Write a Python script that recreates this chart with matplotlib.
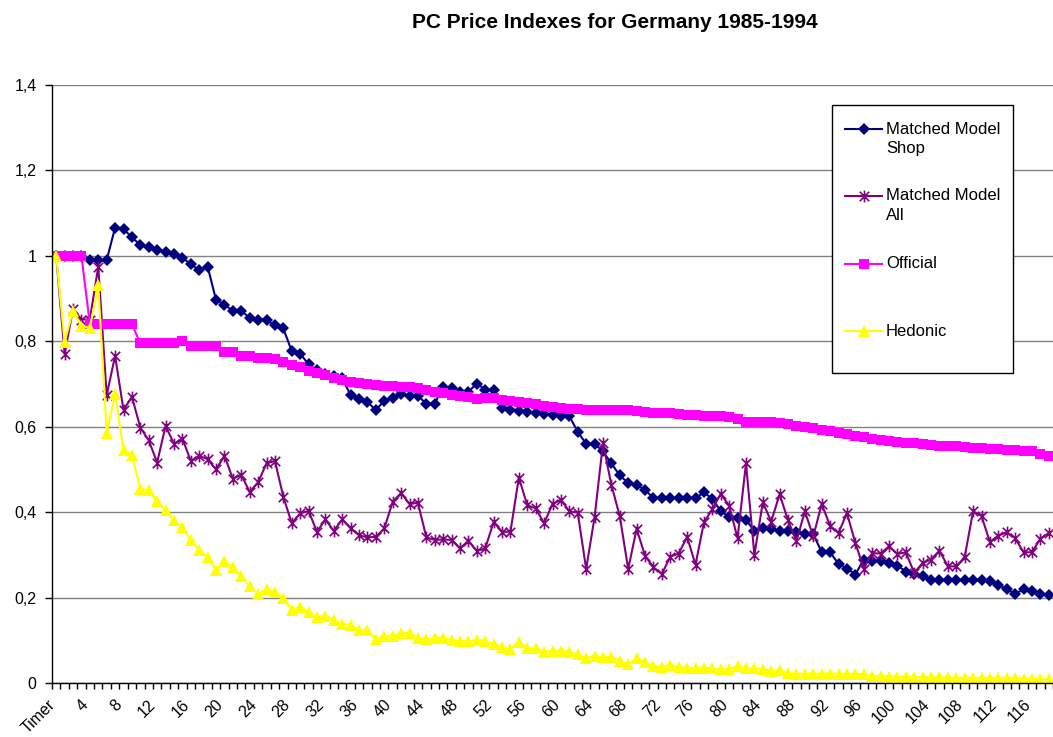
import matplotlib
matplotlib.use("Agg")
import matplotlib.pyplot as plt
import numpy as np
from matplotlib.path import Path
from matplotlib.lines import Line2D
from matplotlib.patches import Rectangle
from matplotlib.transforms import ScaledTranslation

# Category labels (first row is called "Timer", then period numbers)
categories = ["Timer"] + [str(i) for i in range(1, 119)]

shop = [
    1.0, 1.0, 1.0, 1.0, 0.99, 0.99, 0.99, 1.066, 1.063, 1.043,
    1.026, 1.02, 1.014, 1.009, 1.005, 0.995, 0.981, 0.966, 0.975, 0.897,
    0.886, 0.871, 0.871, 0.855, 0.851, 0.851, 0.837, 0.83, 0.777, 0.771,
    0.746, 0.732, 0.723, 0.718, 0.713, 0.674, 0.666, 0.658, 0.639, 0.661,
    0.668, 0.676, 0.672, 0.672, 0.654, 0.654, 0.693, 0.691, 0.682, 0.682,
    0.701, 0.687, 0.686, 0.643, 0.639, 0.637, 0.635, 0.633, 0.629, 0.627,
    0.625, 0.625, 0.588, 0.56, 0.56, 0.542, 0.514, 0.486, 0.468, 0.464,
    0.452, 0.433, 0.433, 0.433, 0.433, 0.433, 0.433, 0.446, 0.431, 0.403,
    0.388, 0.386, 0.382, 0.356, 0.363, 0.36, 0.356, 0.356, 0.353, 0.349,
    0.349, 0.306, 0.306, 0.279, 0.268, 0.254, 0.289, 0.285, 0.285, 0.282,
    0.275, 0.261, 0.256, 0.25, 0.24, 0.24, 0.24, 0.24, 0.24, 0.24,
    0.24, 0.238, 0.23, 0.219, 0.209, 0.219, 0.215, 0.209, 0.205,
]

all_models = [
    1.0, 0.771, 0.876, 0.851, 0.851, 0.975, 0.674, 0.766, 0.639, 0.67,
    0.598, 0.568, 0.516, 0.602, 0.56, 0.572, 0.52, 0.532, 0.524, 0.50,
    0.532, 0.478, 0.488, 0.447, 0.47, 0.514, 0.52, 0.436, 0.374, 0.397,
    0.403, 0.354, 0.383, 0.356, 0.383, 0.362, 0.346, 0.341, 0.342, 0.362,
    0.424, 0.445, 0.419, 0.422, 0.341, 0.335, 0.336, 0.335, 0.315, 0.333,
    0.309, 0.315, 0.377, 0.354, 0.354, 0.481, 0.416, 0.409, 0.374, 0.419,
    0.429, 0.402, 0.399, 0.267, 0.388, 0.561, 0.464, 0.39, 0.267, 0.361,
    0.298, 0.271, 0.255, 0.296, 0.303, 0.342, 0.277, 0.376, 0.407, 0.443,
    0.415, 0.339, 0.514, 0.30, 0.423, 0.378, 0.442, 0.381, 0.332, 0.402,
    0.343, 0.419, 0.368, 0.351, 0.398, 0.328, 0.268, 0.304, 0.303, 0.32,
    0.302, 0.306, 0.258, 0.281, 0.289, 0.31, 0.273, 0.273, 0.295, 0.402,
    0.391, 0.33, 0.345, 0.353, 0.339, 0.306, 0.306, 0.338, 0.351,
]

official = [
    1.0, 1.0, 1.0, 1.0, 0.84, 0.84, 0.84, 0.84, 0.84, 0.84,
    0.795, 0.795, 0.795, 0.795, 0.795, 0.80, 0.79, 0.79, 0.79, 0.79,
    0.775, 0.775, 0.765, 0.765, 0.762, 0.762, 0.758, 0.752, 0.744, 0.74,
    0.731, 0.726, 0.72, 0.715, 0.71, 0.704, 0.702, 0.70, 0.698, 0.696,
    0.695, 0.693, 0.693, 0.691, 0.686, 0.682, 0.678, 0.675, 0.672, 0.669,
    0.666, 0.668, 0.668, 0.662, 0.66, 0.658, 0.656, 0.654, 0.648, 0.645,
    0.643, 0.642, 0.642, 0.640, 0.640, 0.638, 0.638, 0.638, 0.638, 0.637,
    0.635, 0.632, 0.632, 0.632, 0.630, 0.628, 0.627, 0.626, 0.625, 0.624,
    0.622, 0.618, 0.612, 0.612, 0.611, 0.610, 0.608, 0.606, 0.602, 0.599,
    0.596, 0.592, 0.589, 0.586, 0.582, 0.578, 0.575, 0.572, 0.570, 0.567,
    0.565, 0.563, 0.561, 0.559, 0.557, 0.556, 0.555, 0.554, 0.553, 0.551,
    0.549, 0.548, 0.548, 0.546, 0.545, 0.544, 0.543, 0.536, 0.532,
]

hedonic = [
    1.0, 0.798, 0.872, 0.835, 0.832, 0.931, 0.586, 0.676, 0.545, 0.534,
    0.454, 0.452, 0.426, 0.404, 0.381, 0.365, 0.334, 0.312, 0.295, 0.264,
    0.286, 0.271, 0.25, 0.226, 0.209, 0.219, 0.214, 0.198, 0.171, 0.179,
    0.166, 0.154, 0.157, 0.148, 0.138, 0.136, 0.124, 0.123, 0.103, 0.110,
    0.111, 0.116, 0.118, 0.105, 0.103, 0.105, 0.105, 0.101, 0.098, 0.098,
    0.101, 0.099, 0.091, 0.084, 0.080, 0.097, 0.081, 0.081, 0.073, 0.076,
    0.076, 0.073, 0.067, 0.058, 0.064, 0.06, 0.062, 0.052, 0.044, 0.058,
    0.048, 0.04, 0.038, 0.042, 0.038, 0.034, 0.036, 0.036, 0.034, 0.032,
    0.032, 0.04, 0.034, 0.034, 0.033, 0.028, 0.030, 0.023, 0.021, 0.022,
    0.022, 0.022, 0.022, 0.022, 0.021, 0.022, 0.02, 0.017, 0.016, 0.015,
    0.015, 0.015, 0.014, 0.014, 0.013, 0.013, 0.013, 0.012, 0.012, 0.012,
    0.012, 0.012, 0.011, 0.011, 0.011, 0.010, 0.010, 0.009, 0.009,
]

series_names = ["Matched Model\nShop", "Matched Model\nAll", "Official", "Hedonic"]

plt.rcParams['font.family'] = ['Liberation Sans', 'DejaVu Sans']

# Excel style asterisk marker: vertical bar plus an X
star = Path(
    [(0, -1), (0, 1), (-0.8, -0.8), (0.8, 0.8), (-0.8, 0.8), (0.8, -0.8)],
    [Path.MOVETO, Path.LINETO, Path.MOVETO, Path.LINETO, Path.MOVETO, Path.LINETO],
)

styles = [
    dict(color="#000080", marker="D", markersize=6.5, markeredgewidth=0),
    dict(color="#800080", marker=star, markersize=8.5, markeredgewidth=1.2),
    dict(color="#FF00FF", marker="s", markersize=7, markeredgewidth=0),
    dict(color="#FFFF00", marker="^", markersize=8.5, markeredgewidth=0),
]

W, H = 1053, 737
fig = plt.figure(figsize=(W / 100, H / 100), dpi=100)
ax = fig.add_axes([52 / W, 54 / H, 1001 / W, 598 / H])

x = np.arange(len(categories))
for values, st in zip([shop, all_models, official, hedonic], styles):
    ax.plot(x, values, linewidth=1.5, **st)

# axes limits and grid
ax.set_xlim(-0.5, 118.24)
ax.set_ylim(0, 1.4)
ax.set_yticks(np.arange(0, 1.41, 0.2))
ax.set_yticklabels(["0", "0,2", "0,4", "0,6", "0,8", "1", "1,2", "1,4"])
ax.yaxis.grid(True, color="#808080", linewidth=1)
ax.set_axisbelow(True)
ax.tick_params(axis="y", length=5, width=1, pad=6, labelsize=11.5)

for side in ["top", "right"]:
    ax.spines[side].set_visible(False)
for side in ["left", "bottom"]:
    ax.spines[side].set_linewidth(1)
    ax.spines[side].set_color("black")

# category ticks between the categories, labels every fourth category
ax.set_xticks(np.arange(-0.5, len(categories), 1), minor=True)
ax.tick_params(axis="x", which="minor", length=4, width=1)
ax.set_xticks(x[::4])
ax.set_xticklabels(categories[::4], rotation=45, ha="right", va="top",
                   rotation_mode="anchor", fontsize=11.5)
ax.tick_params(axis="x", which="major", length=0, pad=10)
for lab in ax.get_xticklabels():
    lab.set_transform(lab.get_transform() + ScaledTranslation(-9 / 100, 0, fig.dpi_scale_trans))

# title
fig.text(615 / W, 1 - 22 / H, "PC Price Indexes for Germany 1985-1994",
         ha="center", va="center", fontsize=15, fontweight="bold")


# legend drawn like the Excel box
def px(xp, yp):
    return xp / W, 1 - yp / H


x0, y0 = px(832, 373)
x1, y1 = px(1013, 105)
fig.add_artist(Rectangle((x0, y0), x1 - x0, y1 - y0, transform=fig.transFigure,
                         facecolor="white", edgecolor="black", linewidth=1))
entry_y = [129, 196, 264, 331]
for name, st, ey in zip(series_names, styles, entry_y):
    lx0, ly = px(845, ey)
    lx1, _ = px(882, ey)
    fig.add_artist(Line2D([lx0, lx1], [ly, ly], transform=fig.transFigure,
                          color=st["color"], linewidth=1.5))
    mx, _ = px(863.5, ey)
    fig.add_artist(Line2D([mx], [ly], transform=fig.transFigure, linestyle="none", **st))
    for k, line in enumerate(name.split("\n")):
        tx, ty = px(886, ey + 20 * k)
        fig.text(tx, ty, line, ha="left", va="center", fontsize=12)

plt.savefig("out.png", dpi=100)
plt.close()
